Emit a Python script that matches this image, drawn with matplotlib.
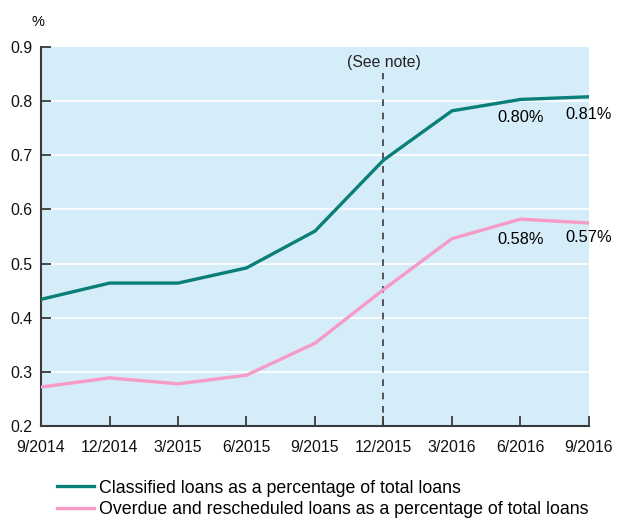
import matplotlib
matplotlib.use("Agg")
import matplotlib.pyplot as plt
from matplotlib.lines import Line2D

quarters = ["9/2014", "12/2014", "3/2015", "6/2015", "9/2015",
            "12/2015", "3/2016", "6/2016", "9/2016"]
classified = [0.434, 0.464, 0.464, 0.492, 0.560, 0.691, 0.782, 0.803, 0.808]
overdue = [0.272, 0.289, 0.278, 0.294, 0.353, 0.452, 0.546, 0.582, 0.575]
yticks = [0.2, 0.3, 0.4, 0.5, 0.6, 0.7, 0.8, 0.9]
note_idx = 5

teal = "#0a7f78"
pink = "#f59bc5"
bg = "#d5ecf9"
dark = "#3a3a3a"

plt.rcParams["font.family"] = ["Liberation Sans", "DejaVu Sans"]

fig = plt.figure(figsize=(6.17, 5.19), dpi=100)
ax = fig.add_axes([0.0665, 0.179, 0.888, 0.7306])
ax.set_facecolor(bg)

x = list(range(len(quarters)))
ax.plot(x, classified, color=teal, lw=2.4, solid_joinstyle="miter", zorder=3)
ax.plot(x, overdue, color=pink, lw=2.4, solid_joinstyle="miter", zorder=3)

for y in yticks[1:-1]:
    ax.axhline(y, color="white", lw=1.2, zorder=1)

ax.plot([note_idx, note_idx], [0.2, 0.852], color=dark, lw=1.2,
        ls=(0, (4, 4)), zorder=2)
ax.text(note_idx, 0.872, "(See note)", ha="center", va="center", fontsize=11.3,
        color="#222222")

ax.text(7, 0.769, f"{classified[7]:.2f}%", ha="center", va="center", fontsize=11.8)
ax.text(8.0, 0.776, f"{classified[8]:.2f}%", ha="center", va="center", fontsize=11.8)
ax.text(7, 0.544, f"{overdue[7]:.2f}%", ha="center", va="center", fontsize=11.8)
ax.text(8.0, 0.549, f"{overdue[8]:.2f}%", ha="center", va="center", fontsize=11.8)

ax.set_xlim(0, len(quarters) - 1)
ax.set_ylim(0.2, 0.9)
ax.set_xticks(x)
ax.set_xticklabels(quarters, fontsize=11.4)
ax.set_yticks(yticks)
ax.set_yticklabels([f"{v:.1f}" for v in yticks], fontsize=11.4)
ax.tick_params(axis="both", direction="in", length=7, width=1.3, color=dark,
               labelcolor="#111111")
ax.tick_params(axis="x", pad=10)
ax.tick_params(axis="y", pad=6)
for side in ["top", "right"]:
    ax.spines[side].set_visible(False)
for side in ["left", "bottom"]:
    ax.spines[side].set_color(dark)
    ax.spines[side].set_linewidth(1.5)

fig.text(0.062, 0.958, "%", ha="center", va="center", fontsize=10.5)

handles = [Line2D([], [], color=teal, lw=2.4), Line2D([], [], color=pink, lw=2.4)]
labels = ["Classified loans as a percentage of total loans",
          "Overdue and rescheduled loans as a percentage of total loans"]
fig.legend(handles, labels, loc="lower left", bbox_to_anchor=(0.0924, 0.002),
           frameon=False, fontsize=12.8, handlelength=2.1, handletextpad=0.28,
           labelspacing=0.24, borderpad=0, borderaxespad=0)

fig.savefig("out.png", dpi=100)
